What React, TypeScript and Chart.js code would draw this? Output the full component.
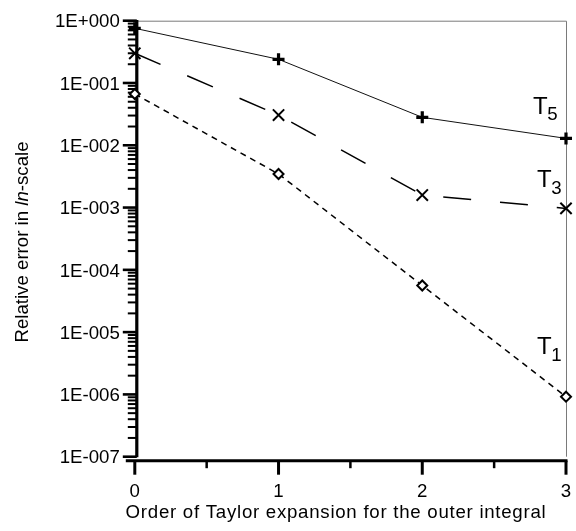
import React, { useEffect, useRef } from "react";
import { Chart, registerables } from "chart.js";

Chart.register(...registerables);

// Order of the Taylor expansion (x) and the relative error of each series (log y)
const orders = [0, 1, 2, 3];
const errorT5 = [0.755, 0.24, 0.0281, 0.0129];
const errorT3 = [0.3, 0.0306, 0.00159, 0.00097];
const errorT1 = [0.0666, 0.00346, 5.6e-5, 9.2e-7];

const yDecades = [1, 1e-1, 1e-2, 1e-3, 1e-4, 1e-5, 1e-6, 1e-7];
const yTickLabels = ["1E+000", "1E-001", "1E-002", "1E-003", "1E-004", "1E-005", "1E-006", "1E-007"];
const xMajorTicks = [0, 1, 2, 3];
const xMinorTicks = [0.5, 1.5, 2.5];
const xTickLabels = ["0", "1", "2", "3"];

const seriesNames = ["T", "T", "T"];
const seriesSubscripts = ["5", "3", "1"];

const xTitle = "Order of Taylor expansion for the outer integral";
const yTitleParts = ["Relative error in ", "ln", "-scale"];

const FONT = "'Liberation Sans', Arial, Helvetica, sans-serif";

const toPoints = (vals: number[]) => orders.map((x, i) => ({ x, y: vals[i] }));

const axesPlugin = {
  id: "taylorAxes",
  beforeDatasetsDraw(chart: any) {
    const { ctx, chartArea, scales } = chart;
    const xs = scales.x;
    const ys = scales.y;
    const axisX = chartArea.left + 2;
    ctx.save();
    ctx.lineCap = "butt";

    // thin grey frame on top and right
    ctx.strokeStyle = "#7a7a7a";
    ctx.lineWidth = 1;
    ctx.beginPath();
    ctx.moveTo(axisX, chartArea.top + 0.5);
    ctx.lineTo(chartArea.right + 0.5, chartArea.top + 0.5);
    ctx.lineTo(chartArea.right + 0.5, chartArea.bottom);
    ctx.stroke();

    ctx.strokeStyle = "#000";
    // y axis
    ctx.lineWidth = 3.2;
    ctx.beginPath();
    ctx.moveTo(axisX, chartArea.top - 0.7);
    ctx.lineTo(axisX, chartArea.bottom + 0.5);
    ctx.stroke();

    // y ticks: decades long, 2..9 short
    yDecades.forEach((d) => {
      const py = ys.getPixelForValue(d);
      ctx.lineWidth = 2.6;
      ctx.beginPath();
      ctx.moveTo(axisX, py);
      ctx.lineTo(axisX - 14, py);
      ctx.stroke();
      if (d < 1) {
        for (let m = 2; m <= 9; m++) {
          const pm = ys.getPixelForValue(d * m);
          ctx.lineWidth = 2;
          ctx.beginPath();
          ctx.moveTo(axisX, pm);
          ctx.lineTo(axisX - 9, pm);
          ctx.stroke();
        }
      }
    });

    // x axis, set slightly below the plot
    const axisY = chartArea.bottom + 4;
    ctx.lineWidth = 3;
    ctx.beginPath();
    ctx.moveTo(chartArea.left - 9, axisY);
    ctx.lineTo(chartArea.right + 1.5, axisY);
    ctx.stroke();
    xMajorTicks.forEach((v) => {
      const px = xs.getPixelForValue(v);
      ctx.lineWidth = 3;
      ctx.beginPath();
      ctx.moveTo(px, axisY);
      ctx.lineTo(px, axisY + 14);
      ctx.stroke();
    });
    xMinorTicks.forEach((v) => {
      const px = xs.getPixelForValue(v);
      ctx.lineWidth = 2.5;
      ctx.beginPath();
      ctx.moveTo(px, axisY);
      ctx.lineTo(px, axisY + 7.5);
      ctx.stroke();
    });

    // tick labels
    ctx.fillStyle = "#000";
    ctx.font = `18.67px ${FONT}`;
    ctx.textAlign = "right";
    ctx.textBaseline = "alphabetic";
    yDecades.forEach((d, i) => {
      const py = ys.getPixelForValue(d);
      ctx.fillText(yTickLabels[i], axisX - 17, py + 6.7);
    });
    ctx.textAlign = "center";
    xMajorTicks.forEach((v, i) => {
      ctx.fillText(xTickLabels[i], xs.getPixelForValue(v), axisY + 36.5);
    });

    // axis titles
    ctx.font = `18.67px ${FONT}`;
    ctx.letterSpacing = "0.73px";
    ctx.fillText(xTitle, 336, 518);
    ctx.letterSpacing = "0px";

    ctx.save();
    ctx.translate(27.5, 242);
    ctx.rotate(-Math.PI / 2);
    const fonts = [`18.67px ${FONT}`, `italic 18.67px ${FONT}`, `18.67px ${FONT}`];
    const widths = yTitleParts.map((p, i) => {
      ctx.font = fonts[i];
      return ctx.measureText(p).width;
    });
    let tx = -widths.reduce((a, b) => a + b, 0) / 2;
    ctx.textAlign = "left";
    yTitleParts.forEach((p, i) => {
      ctx.font = fonts[i];
      ctx.fillText(p, tx, 0);
      tx += widths[i];
    });
    ctx.restore();

    ctx.restore();
  },
  afterDatasetsDraw(chart: any) {
    const { ctx } = chart;
    // series names with subscripts, placed next to the right-hand points
    const anchors = [
      [533, 113.5],
      [537, 187],
      [537, 354],
    ];
    ctx.save();
    ctx.fillStyle = "#000";
    ctx.textAlign = "left";
    ctx.textBaseline = "alphabetic";
    seriesNames.forEach((name, i) => {
      const [ax, ay] = anchors[i];
      ctx.font = `24px ${FONT}`;
      ctx.fillText(name, ax, ay);
      const w = ctx.measureText(name).width;
      ctx.font = `18.67px ${FONT}`;
      ctx.fillText(seriesSubscripts[i], ax + w - 0.5, ay + 6.5);
    });
    ctx.restore();
  },
};

export default function App() {
  const canvasRef = useRef<HTMLCanvasElement | null>(null);

  useEffect(() => {
    if (!canvasRef.current) return;
    const chart = new Chart(canvasRef.current, {
      type: "line",
      data: {
        datasets: [
          {
            label: "T5",
            data: toPoints(errorT5),
            borderColor: "#111",
            borderWidth: 1,
            pointStyle: "cross",
            pointRadius: 6,
            pointBorderWidth: 3.2,
            pointBorderColor: "#000",
            pointBackgroundColor: "#000",
            clip: false,
          },
          {
            label: "T3",
            data: toPoints(errorT3),
            borderColor: "#000",
            borderWidth: 1.5,
            borderDash: [28, 29],
            pointStyle: "crossRot",
            pointRadius: 8,
            pointBorderWidth: 2,
            pointBorderColor: "#000",
            pointBackgroundColor: "#000",
            clip: false,
          },
          {
            label: "T1",
            data: toPoints(errorT1),
            borderColor: "#000",
            borderWidth: 1.5,
            borderDash: [6, 5],
            pointStyle: "rectRot",
            pointRadius: 5,
            pointBorderWidth: 2,
            pointBorderColor: "#000",
            pointBackgroundColor: "#fff",
            clip: false,
          },
        ],
      },
      options: {
        animation: false,
        responsive: false,
        devicePixelRatio: 1,
        layout: { padding: { left: 134.8, right: 5.2, top: 20.7, bottom: 74.3 } },
        scales: {
          x: { type: "linear", min: 0, max: 3, display: false },
          y: { type: "logarithmic", min: 1e-7, max: 1, display: false },
        },
        plugins: { legend: { display: false }, tooltip: { enabled: false } },
        elements: { line: { tension: 0 } },
      },
      plugins: [axesPlugin],
    });
    return () => chart.destroy();
  }, []);

  return (
    <div style={{ position: "fixed", left: 0, top: 0, width: 576, height: 531, background: "#fff" }}>
      <canvas ref={canvasRef} width={576} height={531} />
    </div>
  );
}
